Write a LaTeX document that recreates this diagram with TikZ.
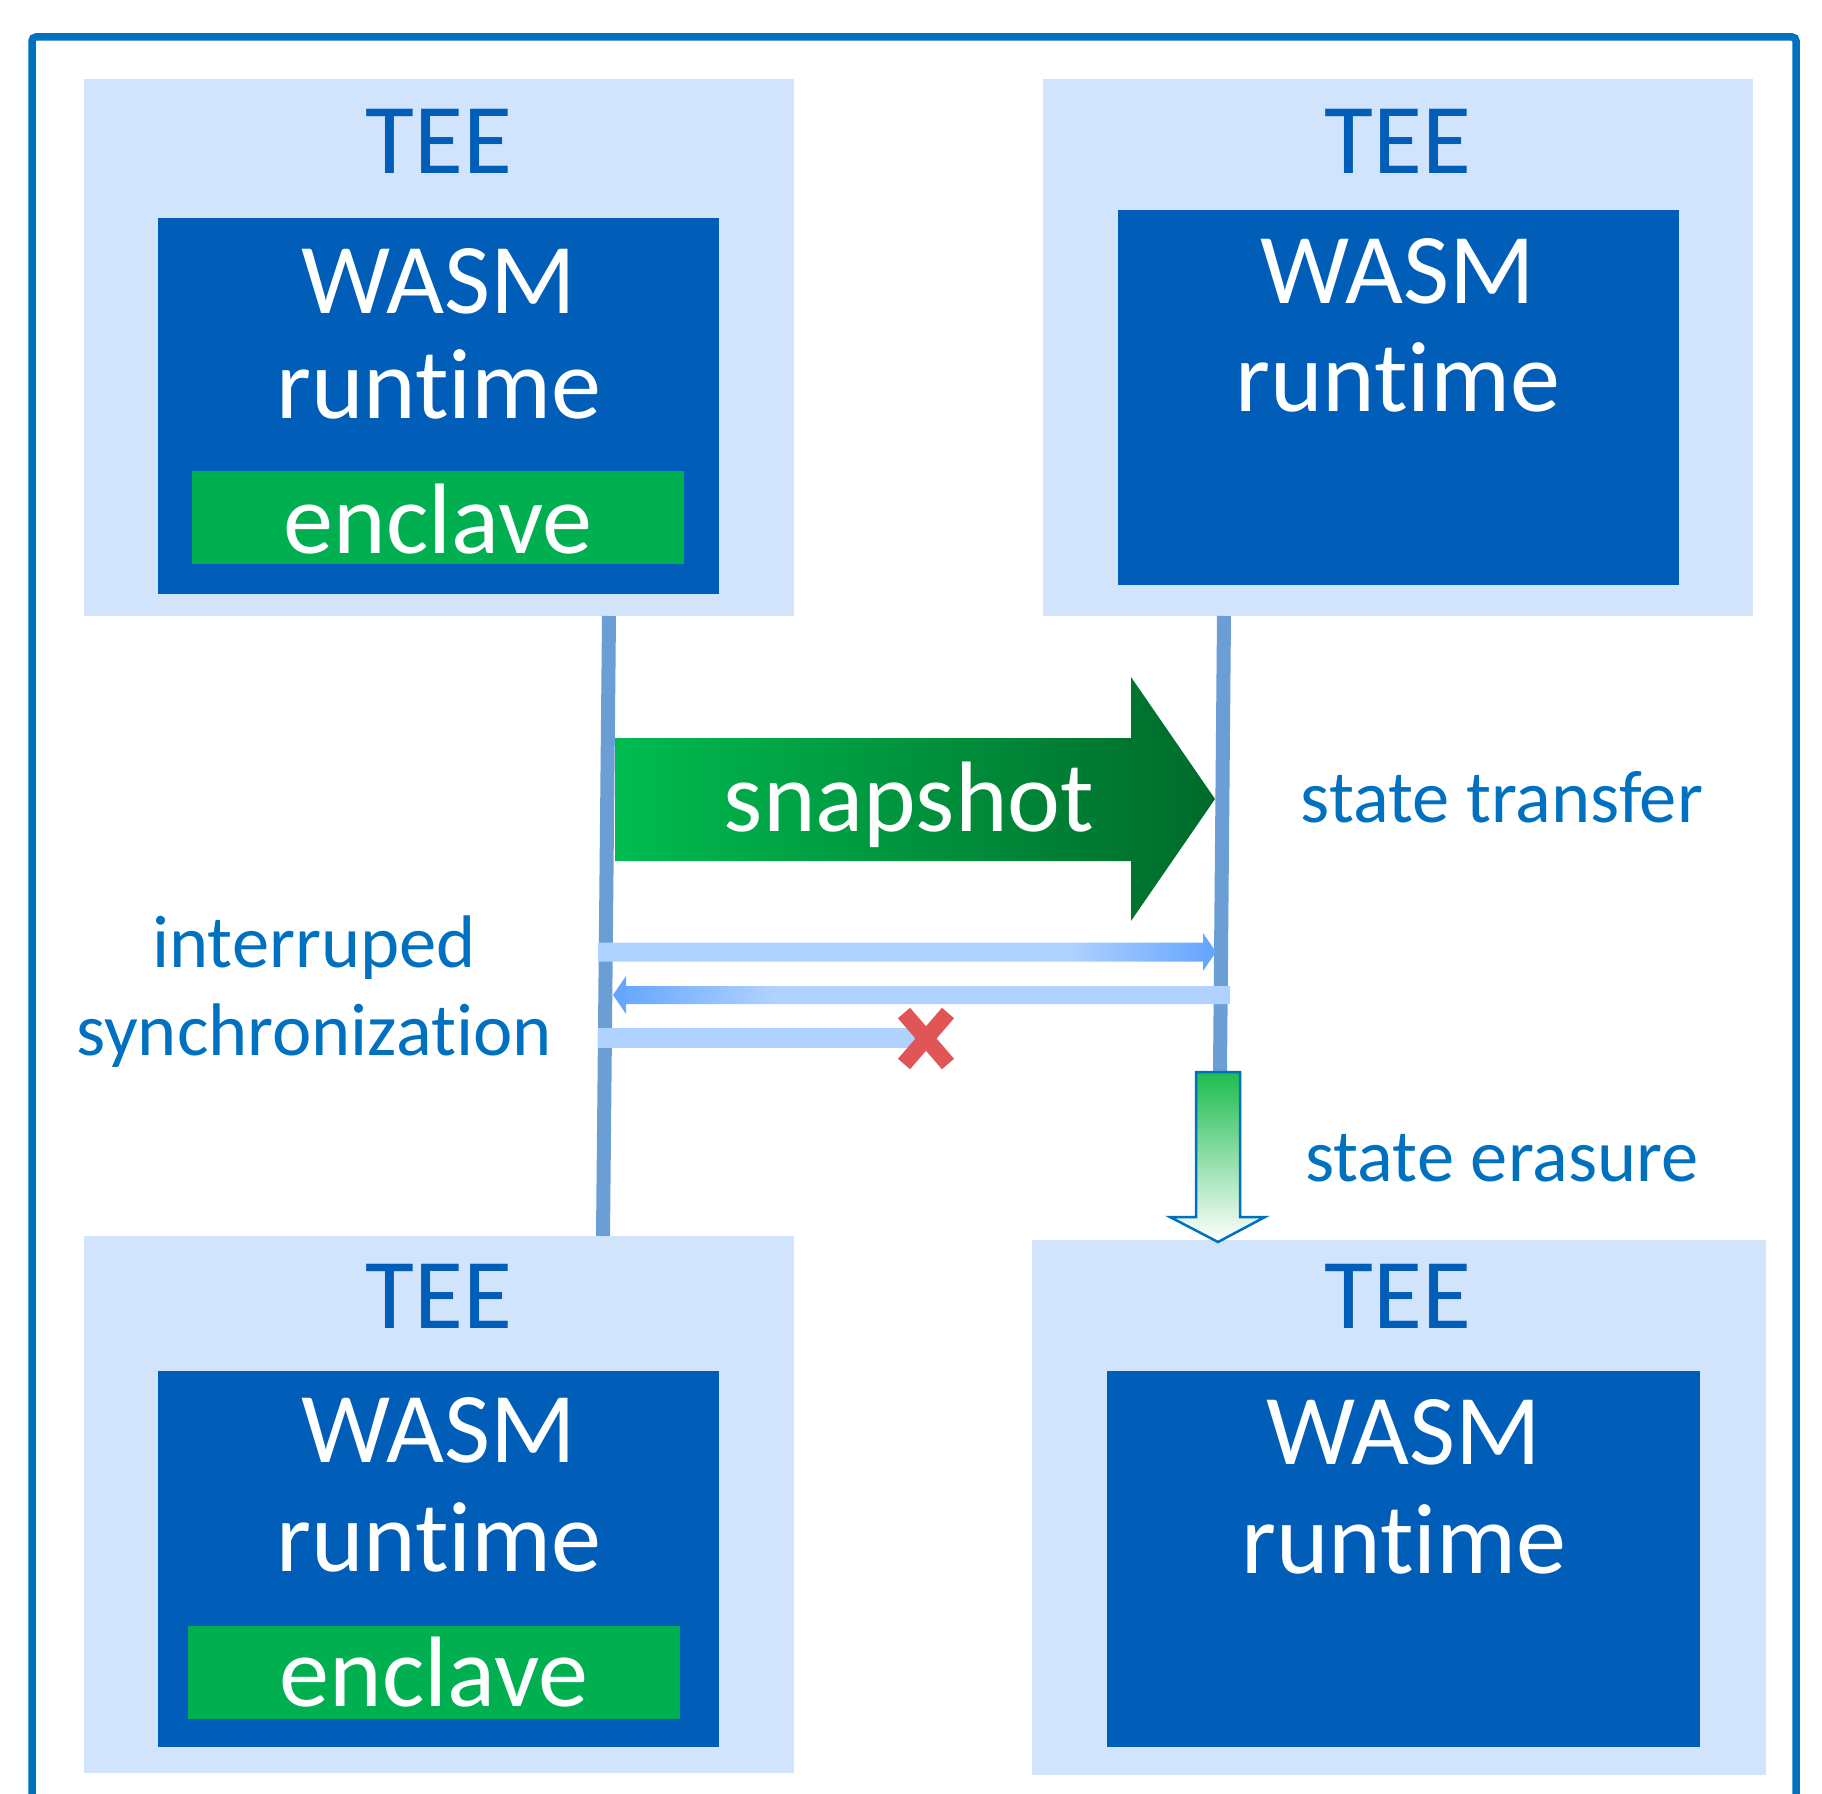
\documentclass[tikz,border=0pt]{standalone}
\usepackage{fontspec}
\setmainfont[Ligatures=NoCommon]{Carlito}
\usetikzlibrary{calc}

\definecolor{framecol}{HTML}{0070C0}
\definecolor{teecol}{HTML}{D2E4FC}
\definecolor{wasmcol}{HTML}{005EB8}
\definecolor{enclcol}{HTML}{00B050}
\definecolor{lifecol}{HTML}{6A9ED4}
\definecolor{snapA}{HTML}{00BB50}
\definecolor{snapB}{HTML}{006A2A}
\definecolor{syncL}{HTML}{B0D2FF}
\definecolor{syncD}{HTML}{62A4FF}
\definecolor{crosscol}{HTML}{E05555}
\definecolor{eraseA}{HTML}{1DBC4F}

% shadings for the sync arrows (path is fitted to 25bp..75bp)
\pgfdeclarehorizontalshading{syncright}{100bp}{color(0bp)=(syncL); color(63bp)=(syncL); color(75bp)=(syncD); color(100bp)=(syncD)}
\pgfdeclarehorizontalshading{syncleft}{100bp}{color(0bp)=(syncD); color(25bp)=(syncD); color(38bp)=(syncL); color(100bp)=(syncL)}

\begin{document}
\begin{tikzpicture}[x=0.1mm,y=-0.1mm]
        \tikzstyle{tee}=[fill=teecol,inner sep=0pt,minimum width=71mm,minimum height=53.7mm]
        \tikzstyle{wasm}=[fill=wasmcol,inner sep=0pt,minimum width=56.1mm,minimum height=37.6mm]
        \tikzstyle{encl}=[fill=enclcol,inner sep=0pt,minimum width=49.2mm,minimum height=9.3mm]
        \tikzstyle{big}=[anchor=base,inner sep=0pt,font=\fontsize{28.5}{34}\selectfont]
        \tikzstyle{label}=[anchor=base,inner sep=0pt,text=framecol,font=\fontsize{21.2}{25}\selectfont]
        \tikzstyle{lifeline}=[draw=lifecol,line width=1.4mm]
        \useasboundingbox (0,0) rectangle (1822,1794);

        % outer frame
        \draw[framecol,line width=0.75mm,rounded corners=0.4mm] (32,1794) -- (32,37) -- (1796,37) -- (1796,1794);

        % boxes
        \begin{scope}
                \node [tee] (tee1) at (439,347.5) {};
                \node [tee] (tee2) at (1398,347.5) {};
                \node [tee] (tee3) at (439,1504) {};
                \node [tee,minimum width=73.4mm,minimum height=53.5mm] (tee4) at (1399,1507.5) {};
                \node [wasm] (wasm1) at (438.5,406) {};
                \node [wasm] (wasm2) at (1398.5,397.5) {};
                \node [wasm] (wasm3) at (438.5,1559) {};
                \node [wasm,minimum width=59.3mm] (wasm4) at (1403.5,1559) {};
                \node [encl] (encl1) at (438,517.5) {};
                \node [encl] (encl3) at (433.5,1672.5) {};
        \end{scope}

        % box texts
        \node [big,text=wasmcol] (tee1t) at (439,174) {TEE};
        \node [big,text=wasmcol] (tee2t) at (1398,174) {TEE};
        \node [big,text=wasmcol] (tee3t) at (439,1328) {TEE};
        \node [big,text=wasmcol] (tee4t) at (1398,1328) {TEE};
        \node [big,text=white] (wasm1a) at (439,313) {WASM};
        \node [big,text=white] (wasm1b) at (439,418) {runtime};
        \node [big,text=white] (encl1t) at (438,553) {enclave};
        \node [big,text=white] (wasm2a) at (1398,304) {WASM};
        \node [big,text=white] (wasm2b) at (1398,411) {runtime};
        \node [big,text=white] (wasm3a) at (439,1462) {WASM};
        \node [big,text=white] (wasm3b) at (439,1571) {runtime};
        \node [big,text=white] (encl3t) at (434,1706) {enclave};
        \node [big,text=white] (wasm4a) at (1404,1464) {WASM};
        \node [big,text=white] (wasm4b) at (1404,1573) {runtime};

        % lifelines
        \coordinate (la) at (609,616);
        \coordinate (lb) at (603,1236);
        \coordinate (ra) at (1224,616);
        \coordinate (rb) at (1220,1072);
        \path[lifeline] (la) -- (lb);
        \path[lifeline] (ra) -- (rb);

        % snapshot
        \shade[left color=snapA,right color=snapB] (615,738) -- (1131,738) -- (1131,677) -- (1215,799) -- (1131,921) -- (1131,861) -- (615,861) -- cycle;
        \node [big,text=white,anchor=base] (snap) at (909,831) {snapshot};
        \node [label] (transfer) at (1502,822) {state transfer};

        % synchronization messages
        \coordinate (s1a) at (598,952);
        \coordinate (s1b) at (1216,952);
        \coordinate (s2a) at (1230,995);
        \coordinate (s2b) at (613,995);
        \coordinate (s3a) at (598,1038);
        \coordinate (s3b) at (915,1038);
        \shade[shading=syncright] ($(s1a)+(0,-9.5)$) -- ($(s1b)+(-13,-9.5)$) -- ($(s1b)+(-13,-19)$) -- (s1b)
                -- ($(s1b)+(-13,19)$) -- ($(s1b)+(-13,9.5)$) -- ($(s1a)+(0,9.5)$) -- cycle;
        \shade[shading=syncleft] ($(s2b)+(13,-19)$) -- ($(s2b)+(13,-9)$) -- ($(s2a)+(0,-9)$) -- ($(s2a)+(0,9)$)
                -- ($(s2b)+(13,9)$) -- ($(s2b)+(13,19)$) -- (s2b) -- cycle;
        \fill[syncL] ($(s3a)+(0,-10)$) rectangle ($(s3b)+(0,10)$);
        \draw[crosscol,line width=1.6mm] (904,1013) -- (948,1064) (948,1013) -- (904,1064);
        \node [label] (interr) at (314,967) {interruped};
        \node [label] (synch) at (314,1055) {synchronization};

        % state erasure
        \shade[top color=eraseA,bottom color=white,draw=framecol,line width=0.25mm] (1196,1072) -- (1240,1072) -- (1240,1217)
                -- (1265,1217) -- (1218,1242) -- (1170,1217) -- (1196,1217) -- cycle;
        \node [label] (erase) at (1502,1181) {state erasure};
\end{tikzpicture}
\end{document}
